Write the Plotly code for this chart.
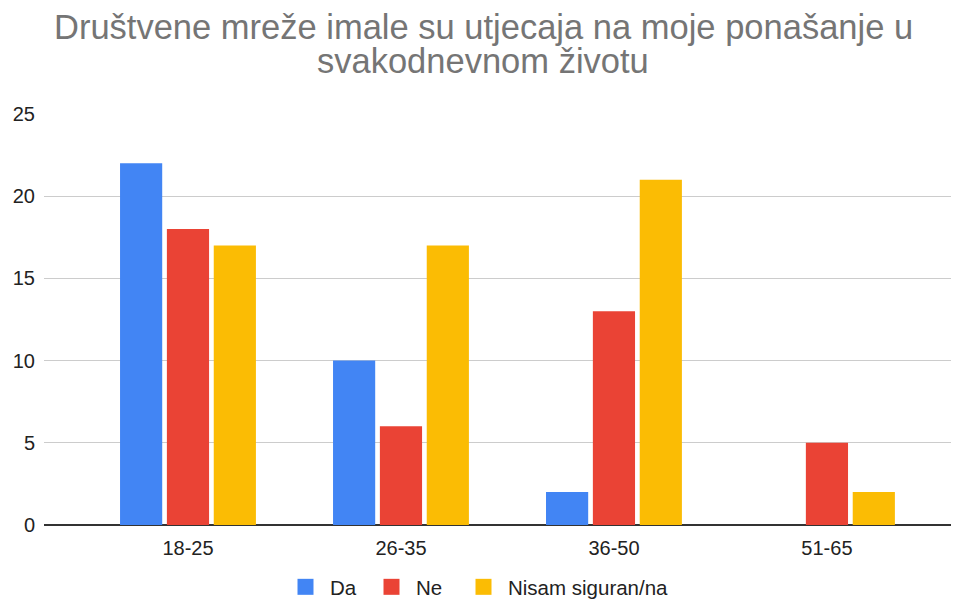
import plotly.graph_objects as go

categories = ["18-25", "26-35", "36-50", "51-65"]
da = [22, 10, 2, 0]
ne = [18, 6, 13, 5]
nisam = [17, 17, 21, 2]
series_names = ["Da", "Ne", "Nisam siguran/na"]
title_lines = ["Društvene mreže imale su utjecaja na moje ponašanje u",
               "svakodnevnom životu"]

COLORS = ["#4285F4", "#EA4335", "#FBBC04"]
FONT = "Liberation Sans, Arial, sans-serif"
TEXT_COLOR = "#222222"
LEGEND_IDS = ["legend", "legend2", "legend3"]
LEGEND_X = [273, 359, 451]  # left edge of each legend entry, px

fig = go.Figure()
for name, vals, col, lg in zip(series_names, [da, ne, nisam], COLORS, LEGEND_IDS):
    fig.add_trace(go.Bar(
        x=categories,
        y=vals,
        name=name,
        showlegend=False,
        marker=dict(color=col, line=dict(width=0)),
    ))
    # legend entry with a larger square swatch
    fig.add_trace(go.Scatter(
        x=[None],
        y=[None],
        name=name,
        mode="markers",
        legend=lg,
        marker=dict(symbol="square", size=18, color=col),
    ))

# two-line title, placed line by line to get the tight line spacing
for i, line in enumerate(title_lines):
    fig.add_annotation(
        text=line,
        xref="paper", yref="paper",
        x=0.480, y=1,
        xanchor="center", yanchor="middle",
        yshift=87 - 34 * i,
        showarrow=False,
        font=dict(family=FONT, size=34.5, color="#757575"),
    )

legend_style = dict(
    orientation="h",
    xref="container",
    xanchor="left",
    y=0.0,
    yref="container",
    yanchor="bottom",
    font=dict(size=20.5, color=TEXT_COLOR),
    itemwidth=39,
)

fig.update_layout(
    width=959,
    height=599,
    paper_bgcolor="white",
    plot_bgcolor="white",
    font=dict(family=FONT, size=20, color=TEXT_COLOR),
    margin=dict(l=36, r=8, t=106, b=82, autoexpand=False),
    barmode="group",
    bargap=0.34,
    bargroupgap=0.1,
    xaxis=dict(
        type="category",
        range=[-0.676, 3.62],
        showgrid=False,
        showline=False,
        ticks="",
        automargin=False,
        ticklabelstandoff=9,
        tickfont=dict(size=20, color=TEXT_COLOR),
    ),
    yaxis=dict(
        range=[0, 25],
        tickvals=[0, 5, 10, 15, 20, 25],
        showgrid=True,
        gridcolor="#cccccc",
        gridwidth=1.3,
        zeroline=True,
        zerolinecolor="#333333",
        zerolinewidth=1.6,
        ticks="",
        automargin=False,
        ticklabelstandoff=8,
        tickfont=dict(size=20, color=TEXT_COLOR),
    ),
    legend=dict(legend_style, x=LEGEND_X[0] / 959),
    legend2=dict(legend_style, x=LEGEND_X[1] / 959),
    legend3=dict(legend_style, x=LEGEND_X[2] / 959),
)

fig.write_html("out.html")
